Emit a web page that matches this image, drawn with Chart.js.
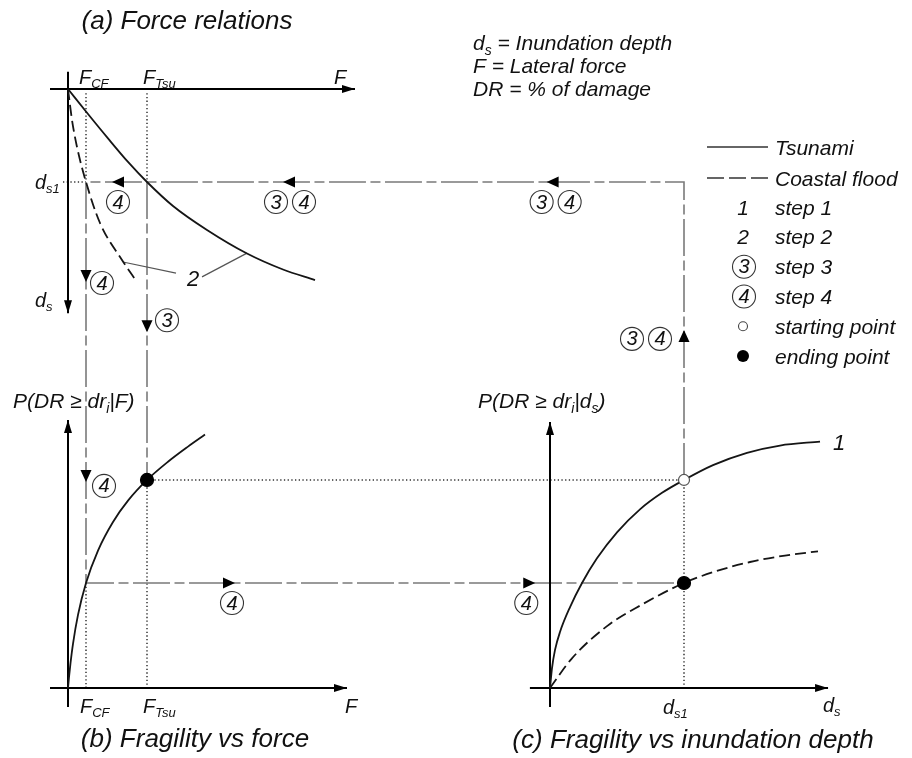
<!DOCTYPE html>
<html>
<head>
<meta charset="utf-8">
<script src="https://cdn.jsdelivr.net/npm/chart.js@4.4.0/dist/chart.umd.min.js"></script>
<style>
  html, body { margin: 0; padding: 0; background: #fff; }
  canvas { display: block; }
</style>
</head>
<body>
<canvas id="chart" width="912" height="758"></canvas>
<script>
// values
const F_CF = 0.9, F_TSU = 3.95;     // lateral force: coastal flood, tsunami
const DS1 = 2.0;                     // inundation depth d_s1
const P_CF = 0.375, P_TSU = 0.743;   // exceedance probability at d_s1

// (a) force relations: [F, d_s]
const tsuForce = [[0, 0], [1.0, 0.538], [2.0, 1.062], [3.0, 1.568], [F_TSU, DS1], [5.25, 2.516],
  [6.95, 3.032], [8.95, 3.538], [10.75, 3.882], [12.35, 4.108]];
const cfForce = [[0, 0], [0.1, 0.344], [0.2, 0.667], [0.45, 1.247], [F_CF, DS1], [1.6, 2.882],
  [2.7, 3.677], [3.45, 4.151]];

// (b) fragility vs force: [F, P]
const fragForce = [[0, 0], [0.05, 0.039], [0.125, 0.089], [0.25, 0.158], [0.5, 0.261],
  [F_CF, P_CF], [1.5, 0.491], [2.25, 0.593], [3.0, 0.669], [F_TSU, P_TSU], [5.0, 0.808],
  [6.0, 0.862], [6.85, 0.905]];

// (c) fragility vs inundation depth: [d_s, P]
const tsuFrag = [[0, 0], [0.03, 0.071], [0.075, 0.136], [0.149, 0.2], [0.299, 0.289],
  [0.478, P_CF], [0.701, 0.463], [1.0, 0.556], [1.343, 0.638], [1.672, 0.697], [DS1, P_TSU],
  [2.433, 0.796], [2.94, 0.84], [3.433, 0.866], [4.03, 0.88]];
const cfFrag = [[0, 0], [0.328, 0.106], [0.851, 0.221], [1.343, 0.294], [DS1, P_CF],
  [2.463, 0.416], [2.985, 0.45], [3.507, 0.473], [4.0, 0.488]];

// legend entries
const legendLines = ['Tsunami', 'Coastal flood'];
const legendSteps = [['1', 'step 1'], ['2', 'step 2'], ['3', 'step 3'], ['4', 'step 4'],
  ['o', 'starting point'], ['*', 'ending point']];

// ---- layout ----
const W = 912, H = 758;
const FAM = '"Liberation Sans", Arial, Helvetica, sans-serif';
const LAY = { xF: { o: 68, k: 20 }, xD: { o: 550, k: 67 }, yD: { o: 89, k: 46.5 }, yP: { o: 688, k: 280 } };

// axis extents [xScale, yScale, from, to]
const AXES = [
  ['xF', 'yD', [-0.9, 0], [14.35, 0]],
  ['xF', 'yD', [0, -0.37], [0, 4.82]],
  ['xF', 'yP', [-0.9, 0], [13.95, 0]],
  ['xF', 'yP', [0, -0.068], [0, 0.957]],
  ['xD', 'yP', [-0.3, 0], [4.15, 0]],
  ['xD', 'yP', [0, -0.068], [0, 0.95]]
];

// arrows along the path, with circled step tags (pixel offsets from tip)
const pathArrows = [
  { xs: 'xF', x: 2.2, ys: 'yD', y: DS1, dir: 'left', tags: [['4', 6, 20]] },
  { xs: 'xF', x: 10.75, ys: 'yD', y: DS1, dir: 'left', tags: [['3', -7, 20], ['4', 21, 20]] },
  { xs: 'xD', x: -0.05, ys: 'yD', y: DS1, dir: 'left', tags: [['3', -5, 20], ['4', 23, 20]] },
  { xs: 'xF', x: F_CF, ys: 'yD', y: 4.15, dir: 'down', tags: [['4', 16, 1]] },
  { xs: 'xF', x: F_CF, ys: 'yP', y: 0.736, dir: 'down', tags: [['4', 18, 4]] },
  { xs: 'xF', x: F_TSU, ys: 'yD', y: 5.23, dir: 'down', tags: [['3', 20, -12]] },
  { xs: 'xF', x: 8.35, ys: 'yP', y: P_CF, dir: 'right', tags: [['4', -3, 20]] },
  { xs: 'xD', x: -0.22, ys: 'yP', y: P_CF, dir: 'right', tags: [['4', -9, 20]] },
  { xs: 'xD', x: DS1, ys: 'yP', y: 1.279, dir: 'up', tags: [['3', -52, 9], ['4', -24, 9]] }
];

const pts = arr => arr.map(p => ({ x: p[0], y: p[1] }));

function curve(data, xs, ys, dash) {
  return {
    data: pts(data), xAxisID: xs, yAxisID: ys, showLine: true, borderColor: '#151515',
    borderWidth: 1.8, borderDash: dash || [], pointRadius: 0, cubicInterpolationMode: 'monotone'
  };
}

function dot(p, xs, ys, r, fill, stroke) {
  return {
    data: pts([p]), xAxisID: xs, yAxisID: ys, showLine: false, pointRadius: r,
    backgroundColor: fill, borderColor: stroke, borderWidth: 1.2
  };
}

const datasets = [
  dot([F_TSU, P_TSU], 'xF', 'yP', 6.5, '#000', '#000'),
  dot([DS1, P_TSU], 'xD', 'yP', 5.5, '#fff', '#555'),
  dot([DS1, P_CF], 'xD', 'yP', 6.5, '#000', '#000'),
  curve(tsuForce, 'xF', 'yD'),
  curve(cfForce, 'xF', 'yD', [11, 5]),
  curve(fragForce, 'xF', 'yP'),
  curve(tsuFrag, 'xD', 'yP'),
  curve(cfFrag, 'xD', 'yP', [11, 5]),
  // leader lines of the "2" label
  { data: pts([[2.75, 3.72], [5.4, 3.96]]), xAxisID: 'xF', yAxisID: 'yD', showLine: true,
    borderColor: '#555', borderWidth: 1.2, pointRadius: 0 },
  { data: pts([[6.7, 4.04], [8.95, 3.53]]), xAxisID: 'xF', yAxisID: 'yD', showLine: true,
    borderColor: '#555', borderWidth: 1.2, pointRadius: 0 }
];
AXES.forEach(a => datasets.push({
  data: pts([a[2], a[3]]), xAxisID: a[0], yAxisID: a[1], showLine: true, arrow: true,
  borderColor: '#000', borderWidth: 2, pointRadius: 0
}));

function scaleFor(id) {
  const { o, k } = LAY[id];
  if (id[0] === 'x') return { type: 'linear', axis: 'x', display: false, min: -o / k, max: (W - o) / k };
  if (id === 'yD') return { type: 'linear', axis: 'y', display: false, reverse: true, min: -o / k, max: (H - o) / k };
  return { type: 'linear', axis: 'y', display: false, min: -(H - o) / k, max: o / k };
}

function tri(ctx, x, y, dir, len, hw) {
  const v = { left: [-1, 0], right: [1, 0], up: [0, -1], down: [0, 1] }[dir];
  const bx = x - v[0] * len, by = y - v[1] * len;
  ctx.beginPath();
  ctx.moveTo(x, y);
  ctx.lineTo(bx - v[1] * hw, by + v[0] * hw);
  ctx.lineTo(bx + v[1] * hw, by - v[0] * hw);
  ctx.closePath();
  ctx.fill();
}

function circled(ctx, t, x, y) {
  ctx.beginPath();
  ctx.arc(x, y, 11.5, 0, Math.PI * 2);
  ctx.lineWidth = 1.1;
  ctx.strokeStyle = '#333';
  ctx.stroke();
  ctx.fillStyle = '#111';
  ctx.font = 'italic 20px ' + FAM;
  ctx.textAlign = 'center';
  ctx.textBaseline = 'middle';
  ctx.fillText(t, x, y + 1);
}

// text with subscripts: parts = [[text, isSub], ...]
function rich(ctx, parts, x, y, size, align) {
  const sub = Math.round(size * 0.66);
  ctx.textBaseline = 'alphabetic';
  ctx.textAlign = 'left';
  let w = 0;
  parts.forEach(([t, s]) => { ctx.font = 'italic ' + (s ? sub : size) + 'px ' + FAM; w += ctx.measureText(t).width; });
  let cx = align === 'center' ? x - w / 2 : align === 'right' ? x - w : x;
  parts.forEach(([t, s]) => {
    ctx.font = 'italic ' + (s ? sub : size) + 'px ' + FAM;
    ctx.fillText(t, cx, s ? y + size * 0.22 : y);
    cx += ctx.measureText(t).width;
  });
}

function seg(ctx, list) {
  ctx.beginPath();
  ctx.moveTo(list[0][0], list[0][1]);
  for (let i = 1; i < list.length; i++) ctx.lineTo(list[i][0], list[i][1]);
  ctx.stroke();
}

const diagram = {
  id: 'diagram',
  beforeDatasetsDraw(chart) {
    const ctx = chart.ctx, s = chart.scales;
    const P = (id, v) => s[id].getPixelForValue(v);
    const fCF = P('xF', F_CF), fTS = P('xF', F_TSU), dC = P('xD', DS1);
    const yDs = P('yD', DS1), yPt = P('yP', P_TSU), yPc = P('yP', P_CF), y0 = P('yP', 0);
    ctx.save();
    // dotted guides
    ctx.setLineDash([1.3, 2.4]);
    ctx.lineWidth = 1.5;
    ctx.strokeStyle = '#333';
    seg(ctx, [[P('xF', -0.25), yDs], [fCF, yDs]]);
    seg(ctx, [[fCF, P('yD', 0.09)], [fCF, yDs]]);
    seg(ctx, [[fTS, P('yD', 0.09)], [fTS, yDs]]);
    seg(ctx, [[fCF, yPc], [fCF, y0]]);
    seg(ctx, [[fTS, yPt], [fTS, y0]]);
    seg(ctx, [[dC, yPt], [dC, y0]]);
    seg(ctx, [[fTS, yPt], [dC, yPt]]);
    // long-short dashed path lines
    ctx.setLineDash([37, 4.5, 10, 4.5]);
    ctx.lineWidth = 1.6;
    ctx.strokeStyle = '#7a7a7a';
    seg(ctx, [[dC, yPt], [dC, yDs], [fCF, yDs]]);
    seg(ctx, [[fCF, yDs], [fCF, yPc], [dC, yPc]]);
    seg(ctx, [[fTS, yDs], [fTS, yPt]]);
    ctx.restore();
  },
  afterDatasetsDraw(chart) {
    const ctx = chart.ctx, s = chart.scales;
    ctx.save();
    // axis arrow heads
    chart.data.datasets.forEach((ds, i) => {
      if (!ds.arrow) return;
      const m = chart.getDatasetMeta(i).data;
      const a = m[0], b = m[1];
      const dir = Math.abs(b.x - a.x) > Math.abs(b.y - a.y) ? (b.x > a.x ? 'right' : 'left') : (b.y > a.y ? 'down' : 'up');
      ctx.fillStyle = '#000';
      tri(ctx, b.x, b.y, dir, 13, 4);
    });
    // path arrows and circled step numbers
    pathArrows.forEach(a => {
      const x = s[a.xs].getPixelForValue(a.x), y = s[a.ys].getPixelForValue(a.y);
      ctx.fillStyle = '#000';
      tri(ctx, x, y, a.dir, 12, 5.5);
      a.tags.forEach(t => circled(ctx, t[0], x + t[1], y + t[2]));
    });
    ctx.restore();
  },
  afterDraw(chart) {
    const ctx = chart.ctx, s = chart.scales;
    const P = (id, v) => s[id].getPixelForValue(v);
    ctx.save();
    ctx.fillStyle = '#111';
    // titles
    rich(ctx, [['(a) Force relations', 0]], 187, 29, 26, 'center');
    rich(ctx, [['(b) Fragility vs force', 0]], 195, 747, 26, 'center');
    rich(ctx, [['(c) Fragility vs inundation depth', 0]], 693, 748, 26, 'center');
    // notes
    rich(ctx, [['d', 0], ['s', 1], [' = Inundation depth', 0]], 473, 50, 21, 'left');
    rich(ctx, [['F = Lateral force', 0]], 473, 73, 21, 'left');
    rich(ctx, [['DR = % of damage', 0]], 473, 96, 21, 'left');
    // panel (a) labels
    rich(ctx, [['F', 0], ['CF', 1]], P('xF', F_CF) - 7, 84, 20, 'left');
    rich(ctx, [['F', 0], ['Tsu', 1]], P('xF', F_TSU) - 4, 84, 20, 'left');
    rich(ctx, [['F', 0]], 334, 84, 20, 'left');
    rich(ctx, [['d', 0], ['s1', 1]], 35, 189, 20, 'left');
    rich(ctx, [['d', 0], ['s', 1]], 35, 307, 20, 'left');
    rich(ctx, [['2', 0]], P('xF', 6.25), P('yD', 4.06) + 8, 22, 'center');
    // panel (b) labels
    rich(ctx, [['P(DR \u2265 dr', 0], ['i', 1], ['|F)', 0]], 13, 408, 21, 'left');
    rich(ctx, [['F', 0], ['CF', 1]], P('xF', F_CF) - 6, 713, 20, 'left');
    rich(ctx, [['F', 0], ['Tsu', 1]], P('xF', F_TSU) - 4, 713, 20, 'left');
    rich(ctx, [['F', 0]], 345, 713, 20, 'left');
    // panel (c) labels
    rich(ctx, [['P(DR \u2265 dr', 0], ['i', 1], ['|d', 0], ['s', 1], [')', 0]], 478, 408, 21, 'left');
    rich(ctx, [['d', 0], ['s1', 1]], P('xD', DS1) - 21, 714, 20, 'left');
    rich(ctx, [['d', 0], ['s', 1]], 823, 712, 20, 'left');
    rich(ctx, [['1', 0]], 833, 450, 22, 'left');
    // legend
    const lx = 775, cx = 743;
    legendLines.forEach((t, i) => {
      const y = 147 + i * 31;
      ctx.save();
      ctx.strokeStyle = '#333';
      ctx.lineWidth = 1.6;
      ctx.setLineDash(i ? [17, 5] : []);
      seg(ctx, [[707, y], [768, y]]);
      ctx.restore();
      ctx.fillStyle = '#111';
      rich(ctx, [[t, 0]], lx, y + 8, 21, 'left');
    });
    legendSteps.forEach((e, i) => {
      const base = 214.6 + i * 29.8, y = base - 7.5;
      const sym = e[0];
      if (sym === '1' || sym === '2') {
        ctx.fillStyle = '#111';
        rich(ctx, [[sym, 0]], cx, base, 21, 'center');
      } else if (sym === 'o') {
        ctx.beginPath(); ctx.arc(cx, y, 4.5, 0, Math.PI * 2);
        ctx.lineWidth = 1.1; ctx.strokeStyle = '#444'; ctx.stroke();
      } else if (sym === '*') {
        ctx.beginPath(); ctx.arc(cx, y, 6, 0, Math.PI * 2);
        ctx.fillStyle = '#000'; ctx.fill();
      } else {
        circled(ctx, sym, cx + 1, y);
      }
      ctx.fillStyle = '#111';
      rich(ctx, [[e[1], 0]], lx, base, 21, 'left');
    });
    ctx.restore();
  }
};

new Chart(document.getElementById('chart').getContext('2d'), {
  type: 'scatter',
  data: { datasets: datasets },
  options: {
    responsive: false,
    animation: false,
    layout: { autoPadding: false, padding: 0 },
    plugins: { legend: { display: false }, tooltip: { enabled: false } },
    scales: { xF: scaleFor('xF'), xD: scaleFor('xD'), yD: scaleFor('yD'), yP: scaleFor('yP') }
  },
  plugins: [diagram]
});
</script>
</body>
</html>
